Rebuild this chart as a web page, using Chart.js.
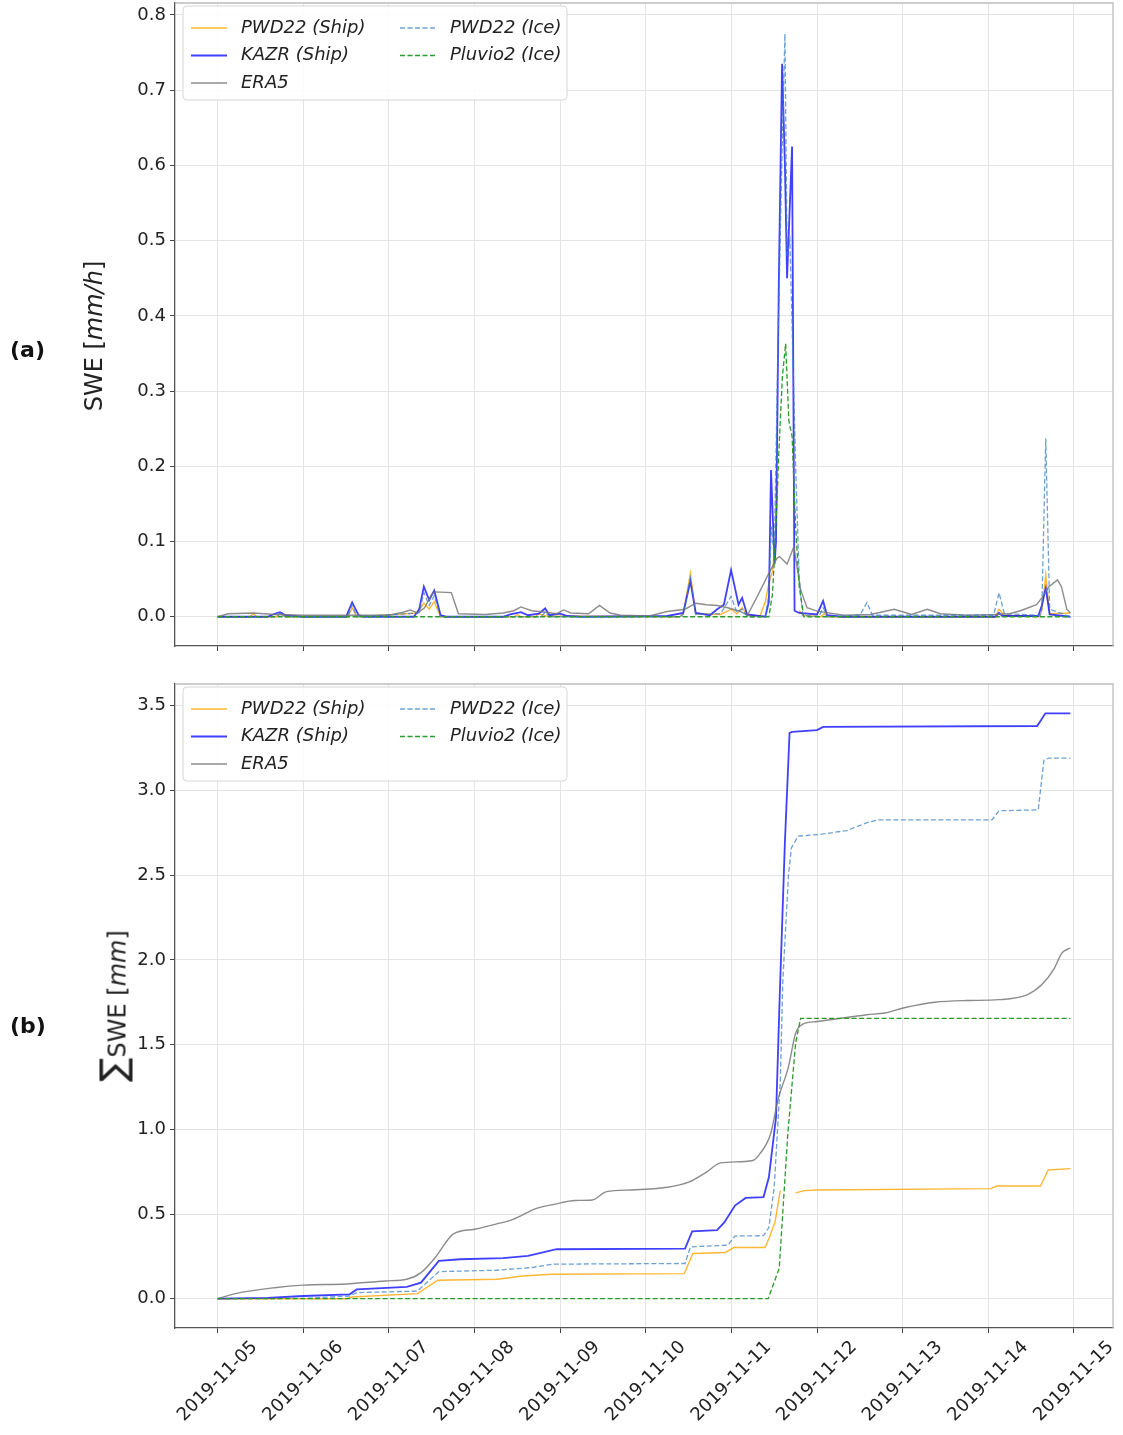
<!DOCTYPE html>
<html>
<head>
<meta charset="utf-8">
<script src="https://cdn.jsdelivr.net/npm/chart.js@4.4.1/dist/chart.umd.min.js"></script>
<style>
  body { margin: 0; background: #fff; width: 1123px; height: 1435px; position: relative; overflow: hidden; font-family: 'DejaVu Sans', sans-serif; }
  canvas { position: absolute; left: 0; }
  #rate { top: 0; }
  #total { top: 670px; }
  .panel { position: absolute; left: 10px; font-weight: bold; font-size: 22px; line-height: 22px; color: #111; }
  .ytitle { position: absolute; transform: translate(-50%, -50%) rotate(-90deg); white-space: nowrap; font-size: 24px; color: #222; }
</style>
</head>
<body>
<canvas id="rate" width="1123" height="660"></canvas>
<canvas id="total" width="1123" height="765"></canvas>
<div class="panel" style="top:339px">(a)</div>
<div class="ytitle" style="left:94px;top:336px">SWE [<i>mm/h</i>]</div>
<div class="panel" style="top:1015px">(b)</div>
<div class="ytitle" style="left:113px;top:1006px"><span style="font-size:36px">∑</span>SWE [<i>mm</i>]</div>
<script>
// hours since 2019-11-05 00:00
const dayHours = [0, 24, 48, 72, 96, 120, 144, 168, 192, 216, 240];
const dayLabels = ['2019-11-05', '2019-11-06', '2019-11-07', '2019-11-08', '2019-11-09', '2019-11-10',
                   '2019-11-11', '2019-11-12', '2019-11-13', '2019-11-14', '2019-11-15'];
const rateTicks = [0, 0.1, 0.2, 0.3, 0.4, 0.5, 0.6, 0.7, 0.8];
const totalTicks = [0, 0.5, 1.0, 1.5, 2.0, 2.5, 3.0, 3.5];

// (a) hourly SWE rate [mm/h]
const pwdShipRateH = [0, 9, 10, 11, 16.5, 17.5, 19, 36.5, 37.7, 39, 56, 57.8, 59.3, 60.7, 62.5, 83, 84, 85, 89, 90, 92,
  129.5, 130.5, 132.5, 134, 141, 144, 145.5, 147, 148.5, 152, 153.5, 154.5, 155.5, 156.3, 157, 158, 162.5, 163, 164,
  169, 170, 171, 218, 219, 220.5, 230.5, 231, 232.1, 233.2, 239];
const pwdShipRate = [0, 0, 0.004, 0, 0, 0.004, 0, 0, 0.012, 0, 0.005, 0.018, 0.01, 0.02, 0, 0, 0.003, 0, 0, 0.004, 0.001,
  0, 0.004, 0.058, 0.004, 0.003, 0.01, 0.004, 0.012, 0.002, 0.001, 0.02, 0.045, 0.06, 0.1, 0.18, null, null, 0.008, 0.002,
  0, 0.004, 0, 0, 0.01, 0.002, 0, 0.008, 0.056, 0.004, 0.005];

const kazrRateH = [0, 14, 16, 17.5, 19, 24, 36, 37.7, 39.5, 41, 55, 56.5, 57.8, 59.3, 60.7, 62.5, 64, 80, 82, 85, 87, 90,
  91.8, 93, 96, 98, 102, 126, 130.5, 132.5, 134, 138, 140, 141.9, 143.9, 145.1, 146, 147, 148.4, 153.5, 154.5, 155.1,
  156.1, 156.5, 157.3, 158.2, 159, 159.6, 161, 161.7, 163, 168, 169.7, 170.8, 175, 218, 219, 220, 230, 231, 232.1, 233.2, 239];
const kazrRate = [0, 0, 0.004, 0.006, 0.002, 0, 0, 0.019, 0.002, 0, 0, 0.01, 0.04, 0.022, 0.035, 0.002, 0, 0, 0.003, 0.006,
  0.002, 0.004, 0.011, 0.002, 0.004, 0.001, 0, 0.001, 0.005, 0.047, 0.005, 0.002, 0.01, 0.016, 0.062, 0.036, 0.016, 0.025,
  0.003, 0, 0.02, 0.195, 0.07, 0.1, 0.45, 0.735, 0.6, 0.45, 0.625, 0.008, 0.005, 0.003, 0.021, 0.002, 0, 0, 0.005, 0.001,
  0.001, 0.015, 0.038, 0.003, 0];

const era5RateH = [0, 3, 10, 16, 24, 36, 48, 52, 54, 56, 58, 60, 61, 65.5, 67.5, 75, 80, 83, 85, 88, 92, 95, 97, 99, 104,
  107, 110, 113, 121, 126, 131, 134, 137, 140, 143, 146.5, 148.5, 152, 154.5, 156.8, 157.5, 159.6, 161.5, 163.4, 165.2,
  168, 175.5, 183, 189.6, 194.5, 198.9, 202.6, 210, 218, 222, 225, 229.5, 231, 233, 235.4, 236.5, 238, 239];
const era5Rate = [0, 0.004, 0.005, 0.003, 0.002, 0.002, 0.002, 0.006, 0.009, 0.005, 0.012, 0.03, 0.033, 0.032, 0.004,
  0.003, 0.005, 0.008, 0.013, 0.008, 0.006, 0.004, 0.009, 0.005, 0.004, 0.015, 0.005, 0.002, 0.001, 0.007, 0.01, 0.018,
  0.016, 0.015, 0.012, 0.007, 0.002, 0.034, 0.058, 0.078, 0.08, 0.07, 0.093, 0.036, 0.012, 0.0075, 0.002, 0.003, 0.01,
  0.003, 0.01, 0.004, 0.002, 0.003, 0.004, 0.008, 0.016, 0.025, 0.04, 0.049, 0.04, 0.01, 0.005];

const pwdIceRateH = [0, 16.5, 17.5, 19, 36.5, 37.7, 39, 56.5, 57.8, 59.3, 60.7, 62.5, 90.5, 91.8, 93, 129.5, 130.5, 132.5,
  134, 141, 143.9, 145.5, 147, 148.5, 153.5, 154.5, 155.2, 156, 157, 158.2, 159, 159.6, 160.4, 161.2, 162, 163, 164, 168.5,
  169.7, 171, 180, 182, 183.5, 217.5, 219, 220.5, 230.5, 231, 232.1, 233.2, 239];
const pwdIceRate = [0, 0, 0.005, 0, 0, 0.016, 0, 0.005, 0.032, 0.015, 0.028, 0, 0, 0.006, 0, 0, 0.003, 0.052, 0.003, 0.004,
  0.027, 0.006, 0.01, 0, 0, 0.03, 0.12, 0.08, 0.35, 0.62, 0.775, 0.48, 0.5, 0.35, 0.2, 0.05, 0.002, 0, 0.012, 0, 0.002,
  0.019, 0.002, 0.002, 0.032, 0.004, 0.002, 0.01, 0.237, 0.01, 0];

const pluvioRateH = [0, 154.5, 155.5, 156.3, 157.3, 158.3, 159.2, 160.1, 161, 162, 163, 164.3, 239];
const pluvioRate = [0, 0, 0.03, 0.1, 0.22, 0.32, 0.363, 0.26, 0.24, 0.12, 0.04, 0, 0];

// (b) accumulated SWE [mm]
const pwdShipSumH = [0, 36, 37.7, 56, 61.7, 78.5, 85.4, 93.6, 130.8, 133.2, 142.3, 144.7, 153.4, 154.6, 156.2, 157.7, 160,
  162, 164.4, 168, 216.7, 218.4, 230.6, 232.8, 239];
const pwdShipSum = [0, 0, 0.01, 0.03, 0.109, 0.115, 0.134, 0.144, 0.148, 0.267, 0.273, 0.302, 0.302, 0.36, 0.45, 0.64, null,
  0.625, 0.638, 0.642, 0.65, 0.665, 0.665, 0.76, 0.768];

const kazrSumH = [0, 14, 24, 37, 39, 53, 57, 62, 68, 80, 87, 95, 131, 133, 140, 142, 145, 148, 153, 154.5, 156.5, 157.5,
  159, 160.3, 161, 168, 169.7, 229.7, 232, 239];
const kazrSum = [0, 0.005, 0.016, 0.026, 0.055, 0.07, 0.095, 0.223, 0.233, 0.239, 0.253, 0.292, 0.296, 0.397, 0.405, 0.45,
  0.55, 0.595, 0.6, 0.717, 1.07, 1.76, 2.7, 3.34, 3.345, 3.356, 3.375, 3.38, 3.455, 3.455];

const era5SumH = [0, 5, 16, 24, 36, 47, 53, 57, 61, 66, 72, 78, 83, 89, 95, 100, 105, 109, 116, 126, 132, 137, 141, 150,
  152, 155, 157, 160, 162, 164, 168, 182, 187, 193, 201, 210, 219, 227, 231, 234.5, 236.6, 239];
const era5Sum = [0, 0.03, 0.065, 0.08, 0.087, 0.105, 0.115, 0.154, 0.243, 0.381, 0.41, 0.44, 0.47, 0.53, 0.56, 0.58, 0.583,
  0.632, 0.642, 0.658, 0.688, 0.747, 0.802, 0.816, 0.856, 0.974, 1.17, 1.37, 1.567, 1.62, 1.636, 1.676, 1.686, 1.72, 1.75,
  1.76, 1.765, 1.795, 1.854, 1.95, 2.04, 2.07];

const pwdIceSumH = [0, 24, 37, 39, 56, 62, 78, 88, 94, 131, 132.5, 143, 145, 153, 154.5, 156, 157.7, 158.4, 159, 160, 160.8,
  162.7, 168.7, 176.4, 182, 185, 217, 219, 230, 231.6, 233, 239];
const pwdIceSum = [0, 0.002, 0.016, 0.036, 0.045, 0.16, 0.168, 0.184, 0.204, 0.208, 0.306, 0.316, 0.37, 0.372, 0.42, 0.66,
  1.28, 1.87, 2.11, 2.5, 2.66, 2.73, 2.74, 2.763, 2.81, 2.826, 2.826, 2.88, 2.885, 3.18, 3.19, 3.19];

const pluvioSumH = [0, 154.3, 157.4, 159.8, 162, 163.4, 239];
const pluvioSum = [0, 0, 0.18, 0.97, 1.51, 1.655, 1.655];

Chart.defaults.font.family = "'DejaVu Sans', sans-serif";

const series = [
  { label: 'PWD22 (Ship)', color: 'rgba(255,165,0,0.8)', width: 1.4, dash: [] },
  { label: 'KAZR (Ship)', color: 'rgba(10,10,255,0.78)', width: 1.8, dash: [] },
  { label: 'ERA5', color: 'rgba(120,120,120,0.85)', width: 1.4, dash: [] },
  { label: 'PWD22 (Ice)', color: 'rgba(60,130,195,0.75)', width: 1.3, dash: [5, 2.5] },
  { label: 'Pluvio2 (Ice)', color: '#2a9a2a', width: 1.3, dash: [5, 2.5] }
];

function toPoints(hours, vals) {
  return hours.map((h, i) => ({ x: h, y: vals[i] }));
}

function makeSets(pairs, smoothIdx) {
  return pairs.map(([h, v], i) => ({
    label: series[i].label,
    data: toPoints(h, v),
    borderColor: series[i].color,
    borderWidth: series[i].width,
    borderDash: series[i].dash,
    pointRadius: 0,
    fill: false,
    spanGaps: false,
    cubicInterpolationMode: i === smoothIdx ? 'monotone' : 'default',
    order: 4 - i
  }));
}

// light top and right edges of the axes box
const frame = {
  id: 'frame',
  afterDatasetsDraw(chart) {
    const { ctx, chartArea: a } = chart;
    ctx.save();
    ctx.strokeStyle = '#bdbdbd';
    ctx.lineWidth = 1.3;
    ctx.beginPath();
    ctx.moveTo(a.left, a.top);
    ctx.lineTo(a.right, a.top);
    ctx.lineTo(a.right, a.bottom);
    ctx.stroke();
    ctx.restore();
  }
};

// two-column legend, filled column-wise
const legendBox = {
  id: 'legendBox',
  afterDraw(chart) {
    const { ctx, chartArea: a } = chart;
    const x0 = a.left + 8, y0 = a.top + 3, w = 384, h = 94, r = 4;
    ctx.save();
    ctx.beginPath();
    ctx.moveTo(x0 + r, y0);
    ctx.arcTo(x0 + w, y0, x0 + w, y0 + h, r);
    ctx.arcTo(x0 + w, y0 + h, x0, y0 + h, r);
    ctx.arcTo(x0, y0 + h, x0, y0, r);
    ctx.arcTo(x0, y0, x0 + w, y0, r);
    ctx.closePath();
    ctx.fillStyle = 'rgba(255,255,255,0.88)';
    ctx.fill();
    ctx.strokeStyle = '#d6d6d6';
    ctx.lineWidth = 1;
    ctx.stroke();
    ctx.font = "italic 18px 'DejaVu Sans'";
    ctx.textBaseline = 'middle';
    chart.data.datasets.forEach((ds, i) => {
      const col = i < 3 ? 0 : 1, row = i < 3 ? i : i - 3;
      const lx = x0 + 8 + col * 209, ly = y0 + 22 + row * 27.5;
      ctx.strokeStyle = ds.borderColor;
      ctx.lineWidth = ds.borderWidth;
      ctx.setLineDash(ds.borderDash);
      ctx.beginPath();
      ctx.moveTo(lx, ly);
      ctx.lineTo(lx + 36, ly);
      ctx.stroke();
      ctx.setLineDash([]);
      ctx.fillStyle = '#222';
      ctx.fillText(ds.label, lx + 50, ly);
    });
    ctx.restore();
  }
};

// date labels turned 45 degrees, centred under each tick
const slantTicks = {
  id: 'slantTicks',
  afterDraw(chart) {
    const { ctx } = chart;
    const sc = chart.scales.x;
    const top = chart.chartArea.bottom + 9;
    ctx.save();
    ctx.font = "18px 'DejaVu Sans'";
    ctx.fillStyle = '#222';
    ctx.textAlign = 'center';
    ctx.textBaseline = 'middle';
    dayHours.forEach((hr, i) => {
      const w = ctx.measureText(dayLabels[i]).width;
      const half = (w + 21) * Math.SQRT1_2 / 2;
      ctx.save();
      ctx.translate(sc.getPixelForValue(hr), top + half);
      ctx.rotate(-Math.PI / 4);
      ctx.fillText(dayLabels[i], 0, 0);
      ctx.restore();
    });
    ctx.restore();
  }
};

function makeChart(id, sets, yMin, yMax, yTicks, xHeight, padTop, plugins) {
  return new Chart(document.getElementById(id), {
    type: 'line',
    data: { datasets: sets },
    plugins,
    options: {
      responsive: false,
      animation: false,
      devicePixelRatio: 1,
      layout: { padding: { left: 0, right: 10, top: padTop, bottom: 0 } },
      plugins: { legend: { display: false }, tooltip: { enabled: false } },
      scales: {
        x: {
          type: 'linear',
          min: -11.95,
          max: 250.95,
          afterBuildTicks: s => { s.ticks = dayHours.map(v => ({ value: v })); },
          afterFit: s => { s.height = xHeight; s.paddingLeft = 0; s.paddingRight = 0; },
          ticks: { display: false },
          grid: { color: '#e4e4e4', lineWidth: 1, tickLength: 5, tickColor: '#444' },
          border: { color: '#555', width: 1.3 }
        },
        y: {
          type: 'linear',
          min: yMin,
          max: yMax,
          afterBuildTicks: s => { s.ticks = yTicks.map(v => ({ value: v })); },
          afterFit: s => { s.width = 175; s.paddingTop = 0; s.paddingBottom = 0; },
          ticks: { callback: v => v.toFixed(1), color: '#222', font: { size: 18 }, padding: 4 },
          grid: { color: '#e4e4e4', lineWidth: 1, tickLength: 5, tickColor: '#444' },
          border: { color: '#555', width: 1.3 }
        }
      }
    }
  });
}

makeChart('rate', makeSets([
  [pwdShipRateH, pwdShipRate],
  [kazrRateH, kazrRate],
  [era5RateH, era5Rate],
  [pwdIceRateH, pwdIceRate],
  [pluvioRateH, pluvioRate]
], -1), -0.0389, 0.8159, rateTicks, 14, 3, [frame, legendBox]);

makeChart('total', makeSets([
  [pwdShipSumH, pwdShipSum],
  [kazrSumH, kazrSum],
  [era5SumH, era5Sum],
  [pwdIceSumH, pwdIceSum],
  [pluvioSumH, pluvioSum]
], 2), -0.1728, 3.628, totalTicks, 107, 14, [frame, legendBox, slantTicks]);
</script>
</body>
</html>
